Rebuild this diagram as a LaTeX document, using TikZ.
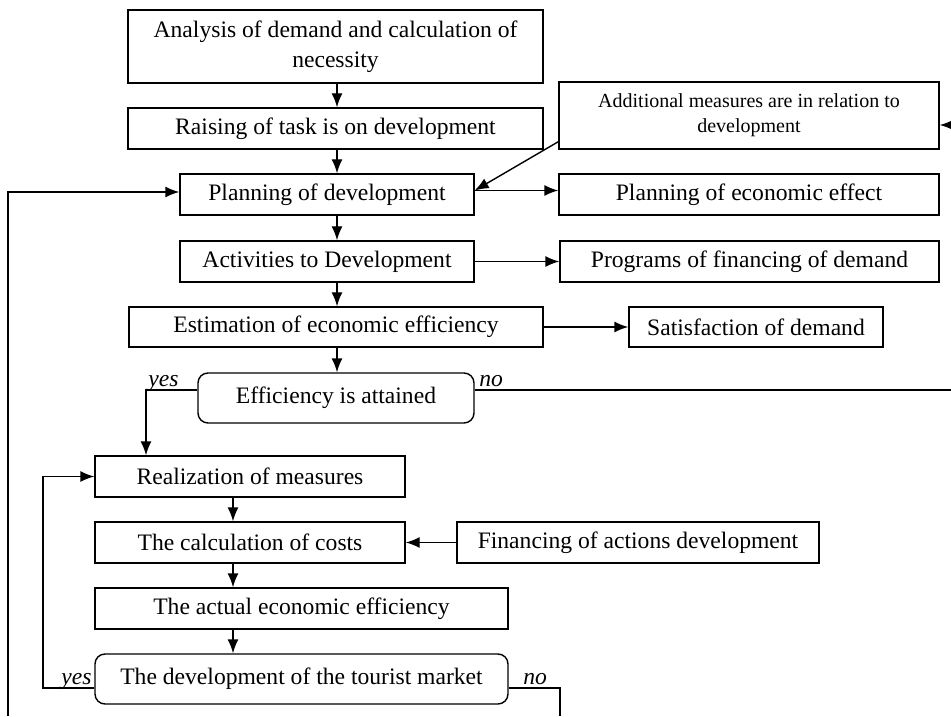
\documentclass[tikz,border=0pt]{standalone}
\usepackage{fontspec}
\setmainfont{Liberation Serif}
\usetikzlibrary{arrows.meta}

\tikzset{
  stepbox/.style={draw, line width=0.7pt, inner sep=2pt, minimum height=20.5pt,
    font=\fontsize{11.8}{15}\selectfont, align=center},
  testbox/.style={stepbox, rounded corners=5pt, minimum height=25pt},
  answer/.style={inner sep=0pt, font=\fontsize{11.8}{14}\selectfont\itshape},
  flow/.style={line width=0.7pt, -{Latex[length=7pt, width=5.5pt]}},
  wire/.style={line width=0.7pt}
}

\begin{document}
\begin{tikzpicture}[x=0.5pt, y=-0.5pt]
    \useasboundingbox (0,0) rectangle (951,716);
    % lines the arrows run along, and loose ends at the border
    \coordinate (spineA) at (337,0);
    \coordinate (spineB) at (233,0);
    \coordinate (yesA) at (146,0);
    \coordinate (loopB) at (43,0);
    \coordinate (loopA) at (8,716);
    \coordinate (rightIn) at (951,125);
    \coordinate (noA) at (951,390);
    \coordinate (noB) at (560,716);

    % upper part
    \node [stepbox, minimum width=207.5pt, minimum height=36.5pt] (analysis) at (335.5,46.5)
        {Analysis of demand and calculation of\\necessity};
    \node [stepbox, minimum width=207.5pt] (raising) at (335.5,128.5) {Raising of task is on development};
    \node [stepbox, minimum width=147pt] (planning) at (327,194.5) {Planning of development};
    \node [stepbox, minimum width=190pt, minimum height=33.5pt, font=\fontsize{10}{12.5}\selectfont]
        (additional) at (749,115.5) {Additional measures are in relation to\\development};
    \node [stepbox, minimum width=190pt] (effect) at (749,194.5) {Planning of economic effect};
    \node [stepbox, minimum width=147pt] (activities) at (327,261.5) {Activities to Development};
    \node [stepbox, minimum width=189.5pt] (programs) at (749.5,261.5) {Programs of financing of demand};
    \node [stepbox, minimum width=207pt, minimum height=20pt] (estimation) at (336,327)
        {Estimation of economic efficiency};
    \node [stepbox, minimum width=127pt, minimum height=20pt] (satisfaction) at (756,327) {Satisfaction of demand};
    \node [testbox, minimum width=138pt] (attained) at (336,398) {Efficiency is attained};

    % lower part
    \node [stepbox, minimum width=155pt] (realization) at (250,476.5) {Realization of measures};
    \node [stepbox, minimum width=155pt] (costs) at (250,542.5) {The calculation of costs};
    \node [stepbox, minimum width=181pt] (financing) at (638,542.5) {Financing of actions development};
    \node [stepbox, minimum width=206.5pt] (actual) at (301.5,608.5) {The actual economic efficiency};
    \node [testbox, minimum width=206.5pt] (market) at (301.5,679) {The development of the tourist market};

    % yes / no
    \node [answer, anchor=base west] (yesTop) at (148,386) {yes};
    \node [answer, anchor=base west] (noTop) at (479,386) {no};
    \node [answer, anchor=base east] (yesBottom) at (92,684) {yes};
    \node [answer, anchor=base west] (noBottom) at (523,684) {no};

    \draw [flow] (analysis.south -| spineA) -- (raising.north -| spineA);
    \draw [flow] (raising.south -| spineA) -- (planning.north -| spineA);
    \draw [flow] (planning.south -| spineA) -- (activities.north -| spineA);
    \draw [flow] (activities.south -| spineA) -- (estimation.north -| spineA);
    \draw [flow] (estimation.south -| spineA) -- (attained.north -| spineA);
    \draw [flow] ([yshift=2pt]planning.east) -- ([yshift=2pt]effect.west);
    \draw [flow] ([yshift=4pt]additional.south west) -- ([yshift=2pt]planning.east);
    \draw [flow] (rightIn) -- (rightIn -| additional.east);
    \draw [flow] (activities.east) -- (programs.west);
    \draw [flow] (estimation.east) -- (satisfaction.west);
    \draw [flow] ([yshift=4pt]attained.west) -| (yesA |- realization.north);
    \draw [wire] ([yshift=4pt]attained.east) -- (noA);
    \draw [flow] (loopA) |- ([yshift=1.25pt]planning.west);

    \draw [flow] (realization.south -| spineB) -- (costs.north -| spineB);
    \draw [flow] (costs.south -| spineB) -- (actual.north -| spineB);
    \draw [flow] (actual.south -| spineB) -- (market.north -| spineB);
    \draw [flow] (financing.west) -- (costs.east);
    \draw [flow] ([yshift=-4.5pt]market.west) -| (loopB |- realization.west) -- (realization.west);
    \draw [wire] ([yshift=-4.5pt]market.east) -| (noB);
\end{tikzpicture}
\end{document}
